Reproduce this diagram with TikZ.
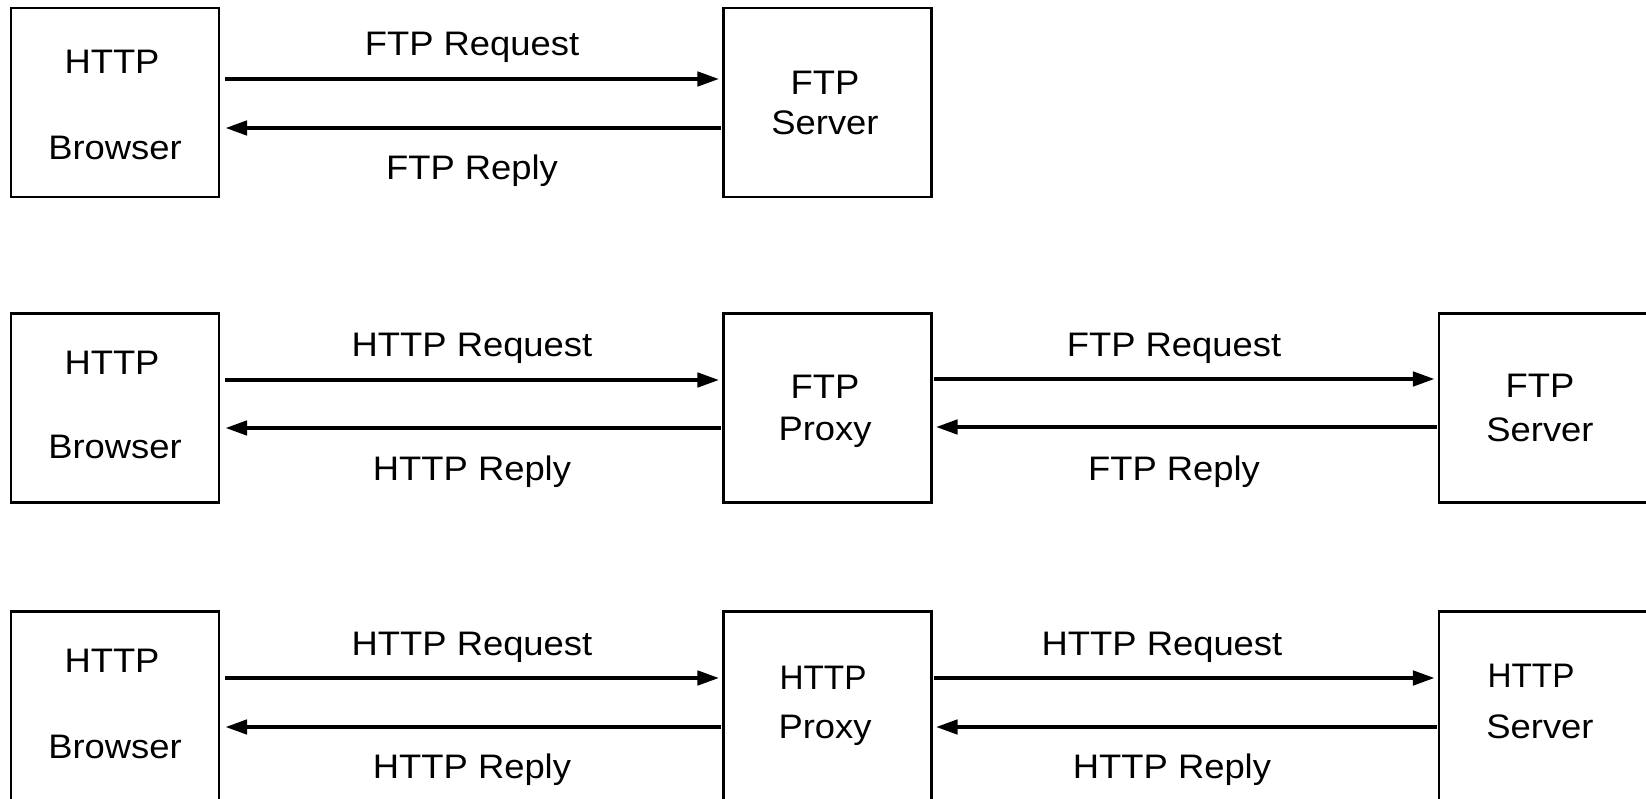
\documentclass[tikz,border=0pt]{standalone}
\usepackage{fontspec}
\setmainfont{Liberation Sans}
\usetikzlibrary{arrows.meta}
\newcommand{\wide}[1]{\scalebox{1.07}[1]{#1}}
\newcommand{\narr}[1]{\scalebox{0.98}[1]{#1}}
\begin{document}
\begin{tikzpicture}[x=1pt,y=-1pt,
  box/.style={draw=black, line width=2.2pt, minimum width=208pt, minimum height=189pt, inner sep=0pt},
  txt/.style={anchor=base, inner sep=0pt, font=\fontsize{34}{40}\selectfont},
  arr/.style={line width=4.5pt, -{Triangle[length=22pt,width=14pt]}}]
\useasboundingbox (0,0) rectangle (1646,799);
\clip (0,0) rectangle (1646,799);
% row 1
\node[box] (b1) at (115,102.5) {};
\node[box] (s1) at (827.5,102.5) {};
% row 2
\node[box] (b2) at (115,408) {};
\node[box] (p2) at (827.5,408) {};
\node[box] (s2) at (1543,408) {};
% row 3
\node[box] (b3) at (115,706) {};
\node[box] (p3) at (827.5,706) {};
\node[box] (s3) at (1543,706) {};
% box texts
\node[txt] (b1a) at (112,74) {\wide{HTTP}};
\node[txt] (b1b) at (115,160) {\wide{Browser}};
\node[txt] (s1a) at (825,95) {\wide{FTP}};
\node[txt] (s1b) at (825,135) {\wide{Server}};
\node[txt] (b2a) at (112,374) {\wide{HTTP}};
\node[txt] (b2b) at (115,458) {\wide{Browser}};
\node[txt] (p2a) at (825,398) {\wide{FTP}};
\node[txt] (p2b) at (825,440) {\wide{Proxy}};
\node[txt] (s2a) at (1540,397) {\wide{FTP}};
\node[txt] (s2b) at (1540,441) {\wide{Server}};
\node[txt] (b3a) at (112,672) {\wide{HTTP}};
\node[txt] (b3b) at (115,758) {\wide{Browser}};
\node[txt] (p3a) at (823,689) {\narr{HTTP}};
\node[txt] (p3b) at (825,738) {\wide{Proxy}};
\node[txt] (s3a) at (1531,687) {\narr{HTTP}};
\node[txt] (s3b) at (1540,738) {\wide{Server}};
% arrows row 1
\draw[arr] ([xshift=5pt,yshift=23.5pt]b1.east) -- ([xshift=-3pt,yshift=23.5pt]s1.west);
\draw[arr] ([xshift=-1pt,yshift=-25.5pt]s1.west) -- ([xshift=5pt,yshift=-25.5pt]b1.east);
% arrows row 2
\draw[arr] ([xshift=5pt,yshift=28pt]b2.east) -- ([xshift=-3pt,yshift=28pt]p2.west);
\draw[arr] ([xshift=-1pt,yshift=-20pt]p2.west) -- ([xshift=5pt,yshift=-20pt]b2.east);
\draw[arr] ([xshift=1pt,yshift=29pt]p2.east) -- ([xshift=-3pt,yshift=29pt]s2.west);
\draw[arr] ([xshift=-1pt,yshift=-19pt]s2.west) -- ([xshift=3pt,yshift=-19pt]p2.east);
% arrows row 3
\draw[arr] ([xshift=5pt,yshift=28pt]b3.east) -- ([xshift=-3pt,yshift=28pt]p3.west);
\draw[arr] ([xshift=-1pt,yshift=-21pt]p3.west) -- ([xshift=5pt,yshift=-21pt]b3.east);
\draw[arr] ([xshift=1pt,yshift=28pt]p3.east) -- ([xshift=-3pt,yshift=28pt]s3.west);
\draw[arr] ([xshift=-1pt,yshift=-21pt]s3.west) -- ([xshift=3pt,yshift=-21pt]p3.east);
% labels
\node[txt] (l1a) at (472,56) {\wide{FTP Request}};
\node[txt] (l1b) at (472,180) {\wide{FTP Reply}};
\node[txt] (l2a) at (472,357) {\wide{HTTP Request}};
\node[txt] (l2b) at (472,480) {\wide{HTTP Reply}};
\node[txt] (l2c) at (1174,357) {\wide{FTP Request}};
\node[txt] (l2d) at (1174,480) {\wide{FTP Reply}};
\node[txt] (l3a) at (472,655) {\wide{HTTP Request}};
\node[txt] (l3b) at (472,778) {\wide{HTTP Reply}};
\node[txt] (l3c) at (1162,655) {\wide{HTTP Request}};
\node[txt] (l3d) at (1172,778) {\wide{HTTP Reply}};
\end{tikzpicture}
\end{document}
